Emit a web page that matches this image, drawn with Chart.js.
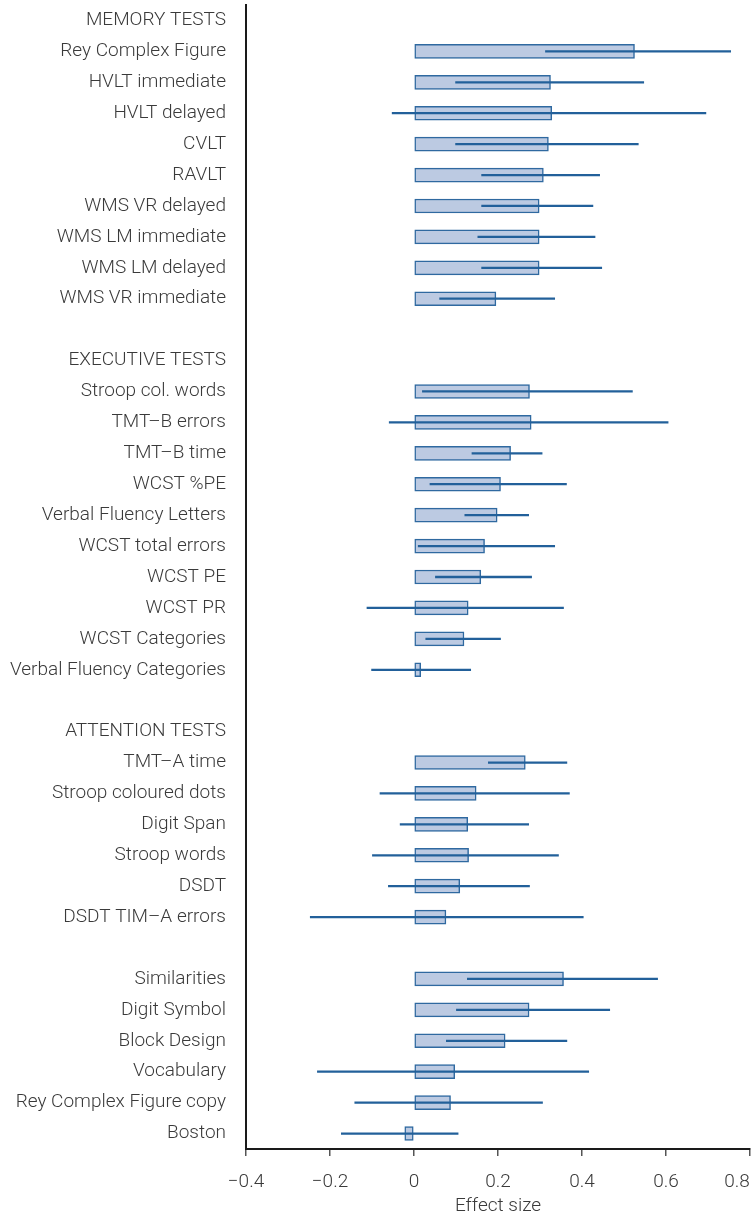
<!DOCTYPE html>
<html>
<head>
<meta charset="utf-8">
<script src="https://cdn.jsdelivr.net/npm/chart.js@4.4.1/dist/chart.umd.min.js"></script>
<style>
  html, body { margin: 0; padding: 0; background: #fff; overflow: hidden; }
  #wrap { width: 751px; height: 1218px; }
</style>
</head>
<body>
<div id="wrap"><canvas id="effectChart" width="751" height="1218"></canvas></div>
<script>
// rows from top to bottom, '' = empty spacer row
var testLabels = [
  'MEMORY TESTS', 'Rey Complex Figure', 'HVLT immediate', 'HVLT delayed', 'CVLT', 'RAVLT',
  'WMS VR delayed', 'WMS LM immediate', 'WMS LM delayed', 'WMS VR immediate', '',
  'EXECUTIVE TESTS', 'Stroop col. words', 'TMT\u2013B errors', 'TMT\u2013B time', 'WCST %PE',
  'Verbal Fluency Letters', 'WCST total errors', 'WCST PE', 'WCST PR', 'WCST Categories',
  'Verbal Fluency Categories', '',
  'ATTENTION TESTS', 'TMT\u2013A time', 'Stroop coloured dots', 'Digit Span', 'Stroop words',
  'DSDT', 'DSDT TIM\u2013A errors', '',
  'Similarities', 'Digit Symbol', 'Block Design', 'Vocabulary', 'Rey Complex Figure copy', 'Boston'
];

var effectSize = [
  null, 0.525, 0.325, 0.328, 0.320, 0.308, 0.298, 0.298, 0.298, 0.195, null,
  null, 0.275, 0.279, 0.230, 0.206, 0.198, 0.168, 0.159, 0.129, 0.119, 0.016, null,
  null, 0.265, 0.148, 0.128, 0.130, 0.109, 0.076, null,
  0.356, 0.274, 0.217, 0.097, 0.087, -0.022
];

var ciLow = [
  null, 0.313, 0.099, -0.052, 0.099, 0.161, 0.161, 0.152, 0.161, 0.061, null,
  null, 0.020, -0.059, 0.138, 0.038, 0.121, 0.010, 0.051, -0.112, 0.028, -0.101, null,
  null, 0.177, -0.081, -0.033, -0.099, -0.061, -0.247, null,
  0.127, 0.101, 0.077, -0.230, -0.141, -0.173
];

var ciHigh = [
  null, 0.754, 0.547, 0.695, 0.534, 0.442, 0.426, 0.431, 0.447, 0.335, null,
  null, 0.520, 0.605, 0.305, 0.363, 0.273, 0.335, 0.280, 0.356, 0.206, 0.135, null,
  null, 0.364, 0.370, 0.273, 0.344, 0.275, 0.403, null,
  0.580, 0.466, 0.364, 0.416, 0.306, 0.105
];

var xTicks = [-0.4, -0.2, 0, 0.2, 0.4, 0.6, 0.8];

var ciRanges = ciLow.map(function (lo, i) {
  return lo === null ? null : [lo, ciHigh[i]];
});

var labelFont = { family: 'Roboto', weight: '300', size: 19 };

function tickText(v) {
  if (Math.abs(v) < 1e-9) return '0';
  var s = (v < 0 ? '\u2212' : '') + Math.abs(v).toFixed(1);
  if (Math.abs(v - xTicks[xTicks.length - 1]) < 1e-9) s += '\u2007\u2007 '; // keep last label inside the canvas
  return s;
}

var ctx = document.getElementById('effectChart').getContext('2d');
var chart = new Chart(ctx, {
  type: 'bar',
  data: {
    labels: testLabels,
    datasets: [
      {
        label: 'CI',
        data: ciRanges,
        backgroundColor: '#22609a',
        borderWidth: 0,
        barThickness: 1.6,
        grouped: false,
        order: 0
      },
      {
        label: 'Effect size',
        data: effectSize,
        backgroundColor: '#bccae2',
        borderColor: '#2f69a0',
        borderWidth: 1.5,
        borderSkipped: false,
        barThickness: 14,
        grouped: false,
        order: 1
      }
    ]
  },
  options: {
    indexAxis: 'y',
    responsive: false,
    animation: false,
    layout: { padding: { top: 5, right: 1, left: 0, bottom: 0 } },
    plugins: {
      legend: { display: false },
      tooltip: { enabled: false }
    },
    scales: {
      x: {
        type: 'linear',
        min: -0.4,
        max: 0.8,
        afterBuildTicks: function (scale) {
          scale.ticks = xTicks.map(function (v) { return { value: v }; });
        },
        afterFit: function (scale) {
          scale.height = 69;
          scale.paddingLeft = 0;
          scale.paddingRight = 0;
        },
        grid: {
          drawOnChartArea: false,
          drawTicks: true,
          tickLength: 7,
          color: '#555',
          lineWidth: 1.5
        },
        border: { display: true, color: '#1a1a1a', width: 2 },
        ticks: {
          color: '#3a3a3a',
          font: labelFont,
          padding: 15,
          maxRotation: 0,
          autoSkip: false,
          callback: function (v) { return tickText(v); }
        },
        title: {
          display: true,
          text: 'Effect size',
          color: '#3a3a3a',
          font: labelFont,
          padding: { top: 0, bottom: 0 }
        }
      },
      y: {
        type: 'category',
        afterFit: function (scale) {
          scale.width = 246;
          scale.paddingTop = 0;
          scale.paddingBottom = 0;
        },
        grid: { display: false, drawTicks: false },
        border: { display: true, color: '#1a1a1a', width: 2 },
        ticks: {
          color: '#3a3a3a',
          font: labelFont,
          padding: 20,
          autoSkip: false
        }
      }
    }
  }
});
</script>
</body>
</html>
